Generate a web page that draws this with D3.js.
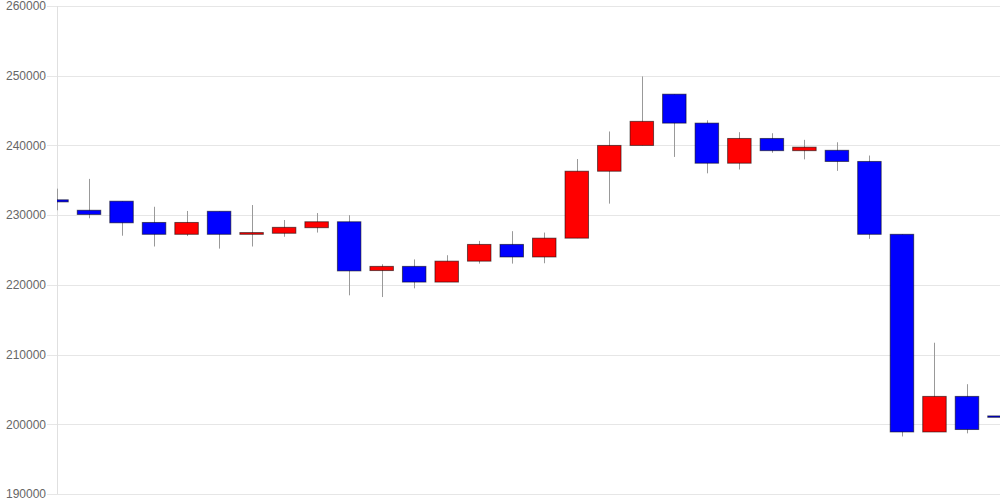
<!DOCTYPE html>
<html>
<head>
<meta charset="utf-8">
<script src="https://cdn.jsdelivr.net/npm/d3@7"></script>
<style>
  html, body { margin: 0; padding: 0; background: #fff; }
  svg { display: block; }
</style>
</head>
<body>
<svg id="chart" width="1000" height="500"></svg>
<script>
// ---- data ----
const categories = d3.range(1, 31).map(String);
const open  = [232200,230700,232000,228950,227250,230550,227250,227400,228200,229050,
               222050,222650,220400,223400,225800,224000,226700,236300,240000,247350,
               243200,237450,241000,239250,239300,237700,227250,198900,204000,201200];
const close = [231900,230100,228900,227250,228950,227250,227500,228250,229050,222000,
               222650,220400,223400,225800,224000,226700,236300,240000,243450,243200,
               237450,241000,239250,239750,237700,227250,198900,204000,199250,201000];
const high  = [233800,235200,232000,231200,230600,230550,231450,229300,230300,230000,
               222950,223650,224250,226300,227700,227500,238050,242000,249900,247350,
               243600,241900,241750,240800,240450,238550,227250,211700,205750,203500];
const low   = [230700,229550,227050,225500,227000,225200,225500,226900,227500,218500,
               218250,219500,220400,223050,223050,223100,226700,231650,240000,238350,
               236000,236550,238950,238000,236350,226600,198250,198900,198700,198800];
const yTicks = [190000,200000,210000,220000,230000,240000,250000,260000];

(function () {
// ---- layout ----
const svg = d3.select("#chart");
const pLeft = 57, pRight = 1000, pTop = 6, pBottom = 494;

const x = d3.scalePoint().domain(categories).range([56.5, 999.5]);
const y = d3.scaleLinear().domain([190000, 260000]).range([pBottom, pTop]);
const bodyW = 23.5;

// grid + ticks
const yAxis = d3.axisLeft(y).tickValues(yTicks).tickFormat(d3.format("d"))
  .tickSize(-(pRight - pLeft)).tickPadding(12);
const gAxis = svg.append("g").attr("transform", `translate(${pLeft},0)`).call(yAxis);
gAxis.select(".domain").remove();
gAxis.selectAll(".tick line").attr("stroke", "#e6e6e6").attr("x1", -10)
  .attr("shape-rendering", "crispEdges");
gAxis.selectAll(".tick text").attr("fill", "#666")
  .style("font-family", "'Liberation Sans', Arial, sans-serif").style("font-size", "12px")
  .attr("x", -11);

// left axis line
svg.append("line").attr("x1", pLeft).attr("x2", pLeft).attr("y1", pTop).attr("y2", pBottom)
  .attr("stroke", "#e0e0e0").attr("shape-rendering", "crispEdges");

// clip
svg.append("clipPath").attr("id", "plot").append("rect")
  .attr("x", pLeft).attr("y", 0).attr("width", pRight - pLeft).attr("height", 500);

const data = categories.map((c, i) => ({c, o: open[i], cl: close[i], h: high[i], l: low[i]}));
const g = svg.append("g").attr("clip-path", "url(#plot)");

const candles = g.selectAll("g.c").data(data).join("g").attr("class", "c");
candles.append("line")
  .attr("x1", d => Math.round(x(d.c)) + 0.5).attr("x2", d => Math.round(x(d.c)) + 0.5)
  .attr("y1", d => y(d.h)).attr("y2", d => y(d.l))
  .attr("stroke", "#999").attr("stroke-width", 1);
candles.append("rect")
  .attr("x", d => x(d.c) - bodyW / 2)
  .attr("width", bodyW)
  .attr("y", d => y(Math.max(d.o, d.cl)))
  .attr("height", d => Math.max(1, Math.abs(y(d.o) - y(d.cl))))
  .attr("fill", d => d.cl >= d.o ? "#ff0000" : "#0000ff")
  .attr("stroke", "rgba(0,0,0,0.55)").attr("stroke-width", 1);
})();
</script>
</body>
</html>
